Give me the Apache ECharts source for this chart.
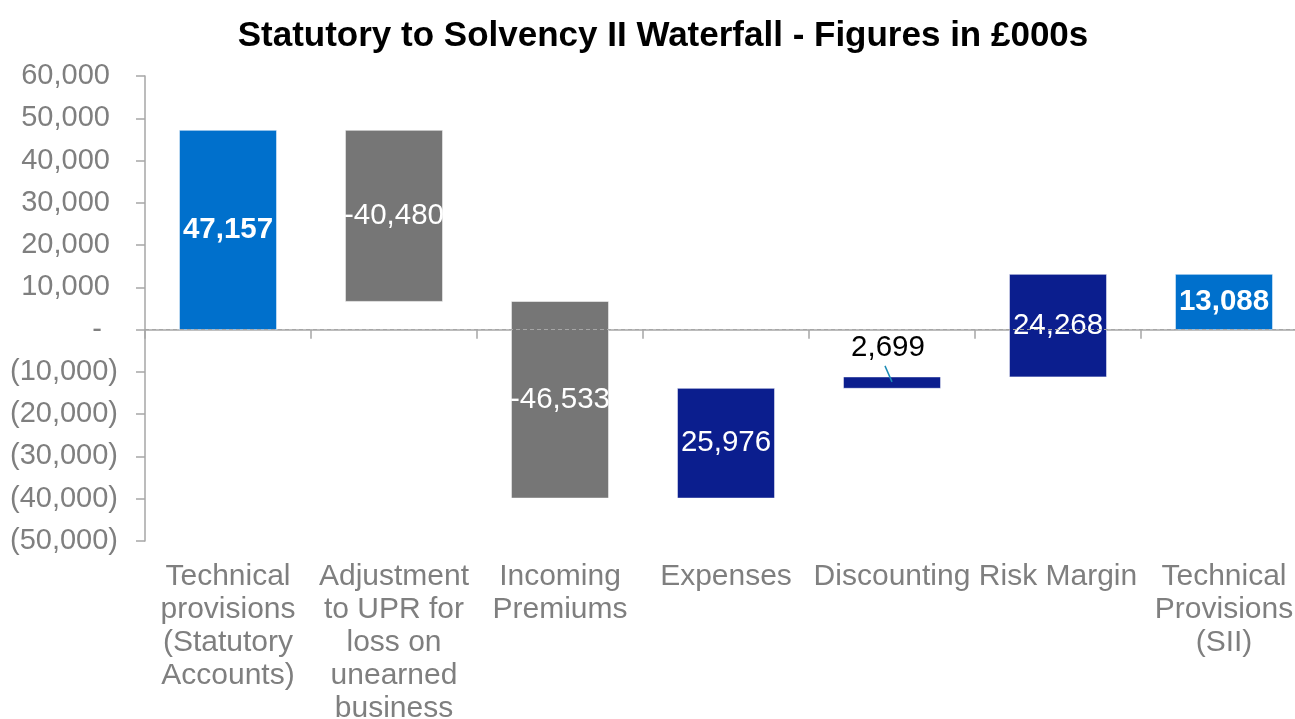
<!DOCTYPE html>
<html>
<head>
<meta charset="utf-8">
<script src="https://cdn.jsdelivr.net/npm/echarts@6/dist/echarts.min.js"></script>
<style>
html,body{margin:0;padding:0;background:#fff;}
#chart{width:1295px;height:719px;}
</style>
</head>
<body>
<div id="chart"></div>
<script>
const categories = [
  'Technical\nprovisions\n(Statutory\nAccounts)',
  'Adjustment\nto UPR for\nloss on\nunearned\nbusiness',
  'Incoming\nPremiums',
  'Expenses',
  'Discounting',
  'Risk Margin',
  'Technical\nProvisions\n(SII)'
];
const values = [47157, -40480, -46533, 25976, 2699, 24268, 13088];
const kinds = ['total', 'change', 'change', 'change', 'change', 'change', 'total'];
const yMin = -50000, yMax = 60000, yStep = 10000;

const COLORS = { total: '#0070CC', down: '#767676', up: '#0B1E8E' };

function fmt(n) {
  const s = Math.abs(n).toString().replace(/\B(?=(\d{3})+(?!\d))/g, ',');
  return (n < 0 ? '-' : '') + s;
}

// build floating bar ranges (waterfall)
let running = 0;
const items = values.map((v, i) => {
  let low, high;
  if (kinds[i] === 'total') { low = 0; high = v; running = v; }
  else { low = running; high = running + v; running = high; }
  const color = kinds[i] === 'total' ? COLORS.total : (v < 0 ? COLORS.down : COLORS.up);
  return { value: [i, Math.min(low, high), Math.max(low, high), v], color: color, bold: kinds[i] === 'total' };
});

const chart = echarts.init(document.getElementById('chart'));
chart.setOption({
  animation: false,
  backgroundColor: '#fff',
  title: {
    text: 'Statutory to Solvency II Waterfall - Figures in £000s',
    left: 658, textAlign: 'center', top: 14,
    textStyle: { fontFamily: 'Liberation Sans', fontWeight: 'bold', fontSize: 35, color: '#000' }
  },
  grid: { left: 145, right: -12, top: 76, bottom: 178, containLabel: false, outerBoundsMode: 'none' },
  xAxis: {
    type: 'category', data: categories,
    axisLine: { lineStyle: { color: '#a6a6a6', width: 1.5 } },
    axisTick: { show: true, length: 9, lineStyle: { color: '#a6a6a6', width: 1.5 } },
    axisLabel: { interval: 0, fontFamily: 'Liberation Sans', fontSize: 30, lineHeight: 33, color: '#7f7f7f', margin: 19 }
  },
  yAxis: {
    type: 'value', min: yMin, max: yMax, interval: yStep,
    axisLine: { show: true, lineStyle: { color: '#a6a6a6', width: 1.5 } },
    axisTick: { show: true, length: 9, lineStyle: { color: '#a6a6a6', width: 1.5 } },
    splitLine: { show: false },
    axisLabel: {
      fontFamily: 'Liberation Sans', fontSize: 29, color: '#7f7f7f', margin: 27,
      formatter: function (v) {
        if (v === 0) return '-  ';
        if (v < 0) return '(' + fmt(-v) + ')';
        return fmt(v) + ' ';
      }
    }
  },
  series: [{
    type: 'custom',
    data: items.map(d => d.value),
    encode: { x: 0, y: [1, 2] },
    renderItem: function (params, api) {
      const idx = api.value(0);
      const it = items[params.dataIndex];
      const top = api.coord([idx, api.value(2)]);
      const bot = api.coord([idx, api.value(1)]);
      const w = api.size([1, 0])[0] * 0.585;
      const h = bot[1] - top[1];
      const cx = top[0];
      const children = [{
        type: 'rect',
        shape: { x: cx - w / 2, y: top[1], width: w, height: h },
        style: { fill: it.color, stroke: 'rgba(255,255,255,0.55)', lineWidth: 1 }
      }];
      const txt = fmt(api.value(3));
      if (h > 34) {
        children.push({
          type: 'text',
          style: {
            text: txt, x: cx, y: top[1] + h / 2, align: 'center', verticalAlign: 'middle',
            fill: '#fff', font: (it.bold ? 'bold ' : '') + '29.5px "Liberation Sans"'
          },
          z2: 10
        });
      } else {
        children.push({
          type: 'text',
          style: {
            text: txt, x: cx - 4, y: top[1] - 29, align: 'center', verticalAlign: 'middle',
            fill: '#000', font: '29.5px "Liberation Sans"'
          },
          z2: 10
        });
        children.push({
          type: 'line',
          shape: { x1: cx - 7, y1: top[1] - 11, x2: cx, y2: top[1] + 5 },
          style: { stroke: '#1B8BB5', lineWidth: 1.5 },
          z2: 11
        });
      }
      return { type: 'group', children: children };
    },
    markLine: {
      silent: true, symbol: 'none', label: { show: false },
      lineStyle: { color: '#a6a6a6', type: [4, 3], width: 1 },
      data: [{ yAxis: 0 }]
    },
    z: 2
  }]
});
</script>
</body>
</html>
